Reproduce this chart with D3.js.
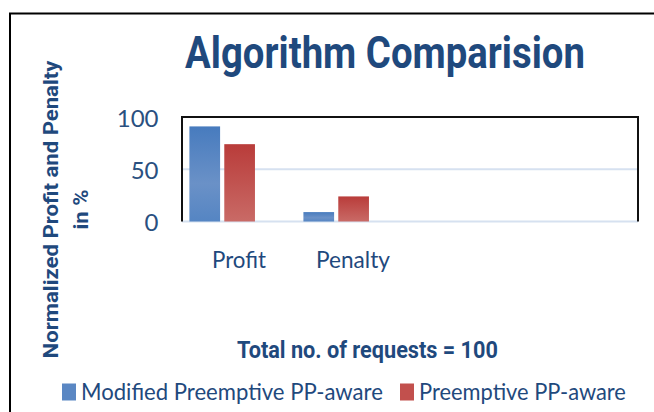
<!DOCTYPE html>
<html>
<head>
<meta charset="utf-8">
<script src="https://cdn.jsdelivr.net/npm/d3@7/dist/d3.min.js"></script>
<style>
  html, body { margin: 0; padding: 0; background: #fff; }
  svg { display: block; }
</style>
</head>
<body>
<script>
// ---- data ----
const categories = ["Profit", "Penalty"];
const emptySlots = ["slot3", "slot4"];          // the original chart reserves two empty category slots
const seriesNames = ["Modified Preemptive PP-aware", "Preemptive PP-aware"];
const modifiedValues = [91, 9];
const preemptiveValues = [74, 24];
const yTicks = [0, 50, 100];
const chartTitle = "Algorithm Comparision";
const yTitleLines = ["Normalized Profit and Penalty", "in %"];
const xTitle = "Total no. of requests = 100";

const W = 654, H = 412;
const textColor = "#1f497d";
const boldFont = "Roboto, 'Liberation Sans', sans-serif";
const bodyFont = "Lato, 'Open Sans', 'Liberation Sans', sans-serif";

const svg = d3.select("body").append("svg").attr("width", W).attr("height", H);

const defs = svg.append("defs");
const gBlue = defs.append("linearGradient").attr("id", "gBlue").attr("x1", 0).attr("y1", 0).attr("x2", 0).attr("y2", 1);
gBlue.append("stop").attr("offset", "0%").attr("stop-color", "#477bbe");
gBlue.append("stop").attr("offset", "60%").attr("stop-color", "#6a91c7");
gBlue.append("stop").attr("offset", "100%").attr("stop-color", "#5585c3");
const gRed = defs.append("linearGradient").attr("id", "gRed").attr("x1", 0).attr("y1", 0).attr("x2", 0).attr("y2", 1);
gRed.append("stop").attr("offset", "0%").attr("stop-color", "#b93c3a");
gRed.append("stop").attr("offset", "100%").attr("stop-color", "#c96a66");
const fills = ["url(#gBlue)", "url(#gRed)"];
const legendFills = ["#5a87c3", "#c2504d"];

// horizontally fit a text to a target width (condensed look) without changing its height
function fit(sel, X, Y, targetW, anchor, rotate) {
  sel.attr("x", 0).attr("y", 0).attr("text-anchor", anchor);
  const w = sel.node().getComputedTextLength();
  const s = w > 0 ? targetW / w : 1;
  sel.attr("transform", `translate(${X},${Y})${rotate ? " rotate(-90)" : ""} scale(${s},1)`);
  return sel;
}

// outer chart border
svg.append("rect").attr("x", 10).attr("y", 13.5).attr("width", 800).attr("height", 600)
  .attr("fill", "none").attr("stroke", "#000").attr("stroke-width", 2);

// scales
const plot = { left: 182, right: 638, top: 117, bottom: 221.5 };
const x = d3.scaleBand().domain(categories.concat(emptySlots)).range([plot.left, plot.right]).padding(0);
const bw = x.bandwidth();
const xInner = d3.scaleBand().domain(seriesNames).range([0.065 * bw, 0.64 * bw]).paddingInner(0.12).paddingOuter(0);
const y = d3.scaleLinear().domain([0, 100]).range([plot.bottom, plot.top]);

// gridlines
svg.append("g").selectAll("line").data(yTicks.filter(t => t !== 100)).join("line")
  .attr("x1", plot.left).attr("x2", plot.right)
  .attr("y1", d => y(d)).attr("y2", d => y(d))
  .attr("stroke", "#d6e1f0").attr("stroke-width", 2);

// bars
const rows = categories.map((c, i) => ({ cat: c, vals: [modifiedValues[i], preemptiveValues[i]] }));
const barG = svg.append("g");
rows.forEach(r => {
  r.vals.forEach((v, si) => {
    barG.append("rect")
      .attr("x", x(r.cat) + xInner(seriesNames[si]))
      .attr("width", xInner.bandwidth())
      .attr("y", y(v))
      .attr("height", y(0) - y(v))
      .attr("fill", fills[si]);
  });
});

// plot frame (top, left, right)
svg.append("path")
  .attr("d", `M${plot.left},${y(0)}V${y(100)}H${plot.right}V${y(0)}`)
  .attr("fill", "none").attr("stroke", "#111").attr("stroke-width", 2);

// y tick labels
svg.append("g").selectAll("text").data(yTicks).join("text")
  .attr("x", 158.5).attr("y", d => y(d) + 9.5)
  .attr("text-anchor", "end")
  .attr("font-family", bodyFont).attr("font-size", 24).attr("fill", "#2a5080")
  .text(d => d);

// category labels
const catWidths = { "Profit": 54, "Penalty": 74 };
categories.forEach(c => {
  const t = svg.append("text")
    .attr("font-family", bodyFont).attr("font-size", 23).attr("fill", textColor)
    .text(c);
  fit(t, x(c) + bw / 2, 268.3, catWidths[c], "middle", false);
});

// title
fit(svg.append("text")
  .attr("font-family", boldFont).attr("font-weight", "bold").attr("font-size", 44)
  .attr("fill", textColor).text(chartTitle), 385, 68.3, 400, "middle", false);

// y title (rotated, two lines)
const yLineBaselines = [57.5, 88];
const yLineLens = [298, 40];
yTitleLines.forEach((t, i) => {
  fit(svg.append("text")
    .attr("font-family", boldFont).attr("font-weight", "bold").attr("font-size", 21)
    .attr("fill", textColor).text(t), yLineBaselines[i], 209.5, yLineLens[i], "middle", true);
});

// x title
fit(svg.append("text")
  .attr("font-family", boldFont).attr("font-weight", "bold").attr("font-size", 23.5)
  .attr("fill", textColor).text(xTitle), 367.5, 358.3, 261, "middle", false);

// legend
const legendItems = [
  { sq: 62, tx: 81, len: 302 },
  { sq: 400, tx: 419, len: 207 }
];
seriesNames.forEach((name, i) => {
  const it = legendItems[i];
  svg.append("rect").attr("x", it.sq).attr("y", 383.5).attr("width", 14).attr("height", 17)
    .attr("fill", legendFills[i]);
  fit(svg.append("text")
    .attr("font-family", bodyFont).attr("font-size", 23).attr("fill", textColor)
    .text(name), it.tx, 399.5, it.len, "start", false);
});
</script>
</body>
</html>
